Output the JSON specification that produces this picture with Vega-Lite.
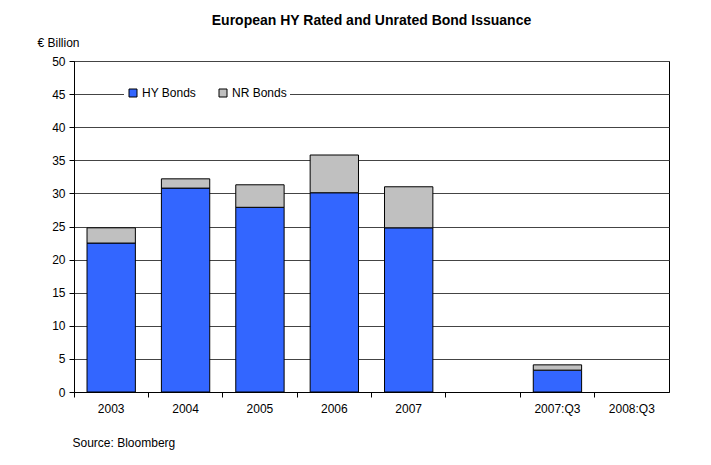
{
  "$schema": "https://vega.github.io/schema/vega-lite/v6.json",
  "width": 595,
  "height": 331,
  "autosize": {"type": "none"},
  "padding": {"left": 74, "top": 61, "right": 42, "bottom": 73},
  "background": "white",
  "title": {
    "text": "European HY Rated and Unrated Bond Issuance",
    "font": "Liberation Sans",
    "fontSize": 14,
    "fontWeight": "bold",
    "color": "black",
    "anchor": "middle",
    "offset": 8
  },
  "data": {
    "values": [
      {"period": "2003", "series": "HY Bonds", "value": 22.5, "ord": 1},
      {"period": "2003", "series": "NR Bonds", "value": 2.3, "ord": 2},
      {"period": "2004", "series": "HY Bonds", "value": 30.8, "ord": 1},
      {"period": "2004", "series": "NR Bonds", "value": 1.4, "ord": 2},
      {"period": "2005", "series": "HY Bonds", "value": 27.9, "ord": 1},
      {"period": "2005", "series": "NR Bonds", "value": 3.4, "ord": 2},
      {"period": "2006", "series": "HY Bonds", "value": 30.1, "ord": 1},
      {"period": "2006", "series": "NR Bonds", "value": 5.7, "ord": 2},
      {"period": "2007", "series": "HY Bonds", "value": 24.8, "ord": 1},
      {"period": "2007", "series": "NR Bonds", "value": 6.2, "ord": 2},
      {"period": "2007:Q3", "series": "HY Bonds", "value": 3.3, "ord": 1},
      {"period": "2007:Q3", "series": "NR Bonds", "value": 0.8, "ord": 2}
    ]
  },
  "mark": {"type": "bar", "width": {"band": 0.65}, "stroke": "black", "strokeWidth": 1},
  "encoding": {
    "x": {
      "field": "period",
      "type": "nominal",
      "scale": {
        "domain": ["2003", "2004", "2005", "2006", "2007", " ", "2007:Q3", "2008:Q3"],
        "paddingInner": 0,
        "paddingOuter": 0
      },
      "axis": {
        "title": "Source: Bloomberg",
        "titleFont": "Liberation Sans",
        "titleFontSize": 12,
        "titleFontWeight": "normal",
        "titleColor": "black",
        "titleAnchor": "start",
        "titleAlign": "left",
        "titleX": -2,
        "titleY": 45,
        "labelAngle": 0,
        "labelFont": "Liberation Sans",
        "labelFontSize": 12,
        "labelColor": "black",
        "labelPadding": 6,
        "bandPosition": 0,
        "domainColor": "black",
        "tickColor": "black",
        "tickSize": 5,
        "grid": false
      }
    },
    "y": {
      "field": "value",
      "type": "quantitative",
      "stack": "zero",
      "scale": {"domain": [0, 50], "nice": false},
      "axis": {
        "title": "€ Billion",
        "titleFont": "Liberation Sans",
        "titleFontSize": 12,
        "titleFontWeight": "normal",
        "titleColor": "black",
        "titleAngle": 0,
        "titleAlign": "left",
        "titleBaseline": "middle",
        "titleX": -37,
        "titleY": -19,
        "values": [0, 5, 10, 15, 20, 25, 30, 35, 40, 45, 50],
        "labelFont": "Liberation Sans",
        "labelFontSize": 12,
        "labelColor": "black",
        "labelPadding": 4,
        "domainColor": "black",
        "tickColor": "black",
        "tickSize": 5,
        "grid": true,
        "gridColor": "#444",
        "gridWidth": 1
      }
    },
    "color": {
      "field": "series",
      "type": "nominal",
      "scale": {"domain": ["HY Bonds", "NR Bonds"], "range": ["#3366FF", "#C0C0C0"]},
      "legend": {
        "title": null,
        "orient": "none",
        "direction": "horizontal",
        "legendX": 50,
        "legendY": 23,
        "fillColor": "white",
        "padding": 3,
        "symbolType": "square",
        "symbolSize": 64,
        "symbolStrokeColor": "black",
        "symbolStrokeWidth": 1,
        "labelFont": "Liberation Sans",
        "labelFontSize": 12,
        "labelColor": "black",
        "labelOffset": 3,
        "columnPadding": 20
      }
    },
    "order": {"field": "ord", "type": "quantitative"}
  },
  "config": {
    "view": {"stroke": "black", "strokeWidth": 1}
  }
}
